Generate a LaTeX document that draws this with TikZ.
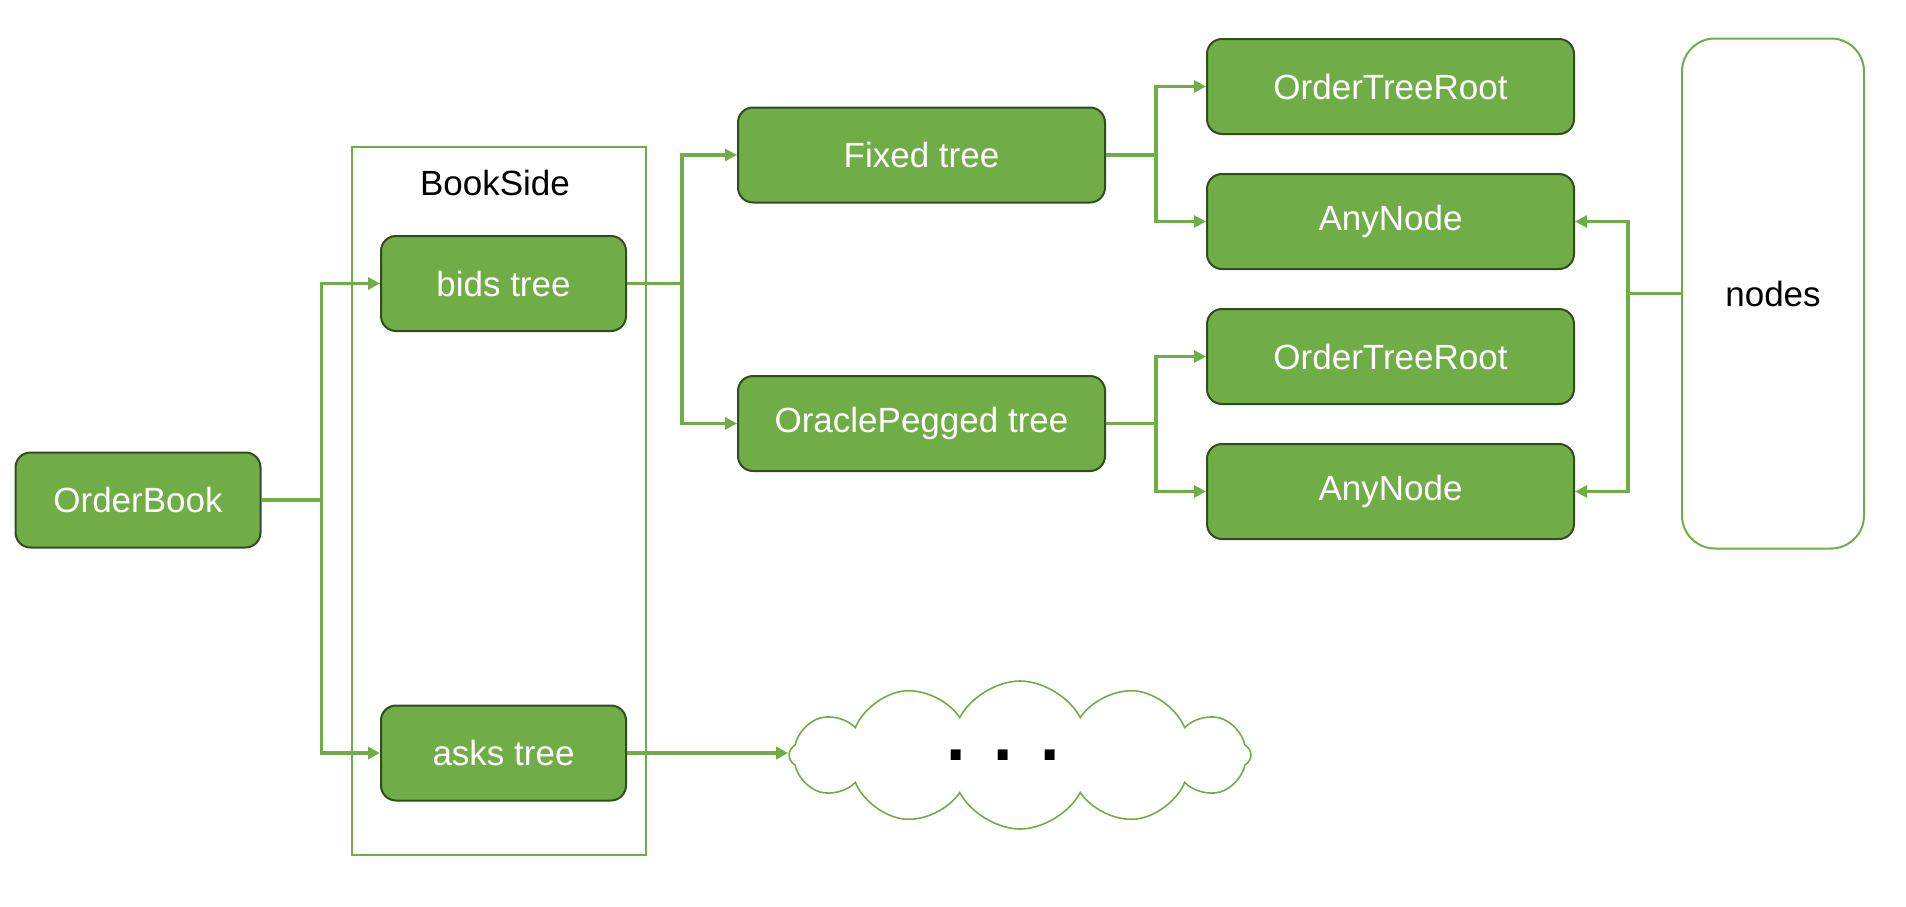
\documentclass[tikz,border=0pt]{standalone}
\usepackage{fontspec}
\setmainfont{Liberation Sans}
\newfontfamily\dotfont{DejaVu Sans}
\usepackage{tikz}
\usetikzlibrary{arrows.meta, shapes.symbols}
\definecolor{leaf}{HTML}{70AD47}
\definecolor{leafdark}{HTML}{314D1F}

\begin{document}
\begin{tikzpicture}[
    x=0.5pt, y=-0.5pt,
    font=\fontsize{17.5}{21}\selectfont,
    box/.style={draw=leafdark, line width=1pt, fill=leaf, text=white,
        rounded corners=7.5pt, minimum height=47.5pt, inner sep=0pt},
    short/.style={box, minimum width=122.5pt},
    wide/.style={box, minimum width=183.5pt},
    link/.style={draw=leaf, line width=1.6pt, -{Triangle[length=6pt,width=6pt]}}
    ]
    \useasboundingbox (0,0) rectangle (1906,906);

    % BookSide frame
    \node[draw=leaf, line width=1pt, minimum width=147pt, minimum height=354pt, inner sep=0pt] (side) at (499,501) {};
    \node (sidelabel) at (495,183) {BookSide};

    \node[short] (book) at (138,500) {OrderBook};
    \node[short] (bids) at (503.5,283.5) {bids tree};
    \node[short] (asks) at (503.5,753) {asks tree};

    \node[wide] (fixed) at (921.5,155) {Fixed tree};
    \node[wide] (oracle) at (921.5,423.5) {OraclePegged tree};

    \node[wide] (root1) at (1390.5,86.5) {OrderTreeRoot};
    \node[wide] (any1) at (1390.5,221.5) {AnyNode};
    \node[wide] (root2) at (1390.5,356.5) {OrderTreeRoot};
    \node[wide] (any2) at (1390.5,491.5) {AnyNode};

    \node[draw=leaf, line width=1pt, rounded corners=16.5pt, minimum width=91pt, minimum height=255pt, inner sep=0pt] (nodes) at (1773,293.5) {nodes};

    \node[cloud, draw=leaf, line width=0.8pt, cloud puffs=12, cloud puff arc=125, aspect=2.5,
        minimum width=231pt, minimum height=74pt, inner sep=0pt] (more) at (1020,755)
        {\dotfont\bfseries\fontsize{28}{30}\selectfont . . .\kern17pt};

    % connectors
    \draw[link] (book.east) -- ++(60,0) |- (bids.west);
    \draw[link] (book.east) -- ++(60,0) |- (asks.west);
    \draw[link] (bids.east) -- ++(55,0) |- (fixed.west);
    \draw[link] (bids.east) -- ++(55,0) |- (oracle.west);
    \draw[link] (fixed.east) -- ++(50,0) |- (root1.west);
    \draw[link] (fixed.east) -- ++(50,0) |- (any1.west);
    \draw[link] (oracle.east) -- ++(50,0) |- (root2.west);
    \draw[link] (oracle.east) -- ++(50,0) |- (any2.west);
    \draw[link] (nodes.west) -- ++(-53,0) |- (any1.east);
    \draw[link] (nodes.west) -- ++(-53,0) |- (any2.east);
    \draw[link] (asks.east) -- (asks.east -| more.west);
\end{tikzpicture}
\end{document}
